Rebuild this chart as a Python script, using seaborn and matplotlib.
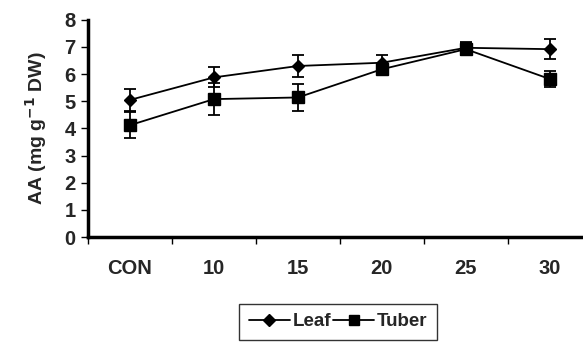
import numpy as np
import pandas as pd
import matplotlib
matplotlib.use("Agg")
import matplotlib.pyplot as plt
import seaborn as sns
from matplotlib.lines import Line2D

CATEGORIES = ["CON", "10", "15", "20", "25", "30"]
LEAF_MEAN = [5.05, 5.88, 6.30, 6.42, 6.97, 6.92]
LEAF_ERR = [0.40, 0.37, 0.42, 0.30, 0.23, 0.37]
TUBER_MEAN = [4.12, 5.08, 5.14, 6.18, 6.92, 5.82]
TUBER_ERR = [0.48, 0.58, 0.50, 0.15, 0.22, 0.30]

sns.set_style("ticks")
plt.rcParams["font.family"] = ["Liberation Sans", "DejaVu Sans"]
plt.rcParams["font.weight"] = "bold"

frame = pd.DataFrame(
    {
        "Treatment": CATEGORIES * 2,
        "AA": LEAF_MEAN + TUBER_MEAN,
        "Err": LEAF_ERR + TUBER_ERR,
        "Organ": ["Leaf"] * len(CATEGORIES) + ["Tuber"] * len(CATEGORIES),
    }
)
frame["x"] = np.tile(np.arange(len(CATEGORIES)), 2)

fig = plt.figure(figsize=(5.83, 3.42), dpi=100)
ax = fig.add_axes([0.151, 0.307, 0.864, 0.635])

sns.lineplot(
    data=frame,
    x="x",
    y="AA",
    style="Organ",
    dashes=False,
    color="black",
    linewidth=1.3,
    legend=False,
    ax=ax,
)

marker_style = {"Leaf": ("D", 6.5), "Tuber": ("s", 8.5)}
for organ, group in frame.groupby("Organ"):
    marker, size = marker_style[organ]
    ax.errorbar(
        group["x"],
        group["AA"],
        yerr=group["Err"],
        fmt=marker,
        color="black",
        markersize=size,
        elinewidth=1.3,
        capsize=4.5,
        capthick=1.3,
        zorder=3,
    )

ax.set_xlim(-0.5, 5.5)
ax.set_ylim(0, 8)
ax.set_yticks(range(0, 9))
ax.set_xticks(np.arange(len(CATEGORIES)))
ax.set_xticklabels(CATEGORIES)
ax.set_xticks(np.arange(-0.5, 5.6, 1), minor=True)
ax.tick_params(axis="x", which="major", length=0, pad=16, labelsize=14.5)
ax.tick_params(axis="x", which="minor", length=5, width=1, color="black")
ax.tick_params(axis="y", length=5, width=1, color="black", labelsize=14.5, pad=4)
for label in ax.get_xticklabels() + ax.get_yticklabels():
    label.set_fontweight("bold")

ax.set_xlabel("")
ax.set_ylabel("AA (mg g$^{\\mathbf{-1}}$ DW)", fontsize=14, fontweight="bold", labelpad=11)

sns.despine(ax=ax)
ax.spines["left"].set_linewidth(2.5)
ax.spines["bottom"].set_linewidth(2.5)
ax.spines["left"].set_color("black")
ax.spines["bottom"].set_color("black")

handles = [
    Line2D([0], [0], color="black", lw=1.3, marker="D", markersize=6),
    Line2D([0], [0], color="black", lw=1.3, marker="s", markersize=7.5),
]
legend = fig.legend(
    handles,
    ["Leaf", "Tuber"],
    loc="upper center",
    bbox_to_anchor=(0.58, 0.112),
    ncol=2,
    frameon=True,
    fancybox=False,
    handlelength=2.2,
    handletextpad=0.15,
    columnspacing=0.1,
    borderpad=0.5,
    borderaxespad=0,
    prop={"weight": "bold", "size": 13.5},
)
legend.get_frame().set_edgecolor("black")
legend.get_frame().set_linewidth(1.0)

fig.savefig("out.png", dpi=100)
